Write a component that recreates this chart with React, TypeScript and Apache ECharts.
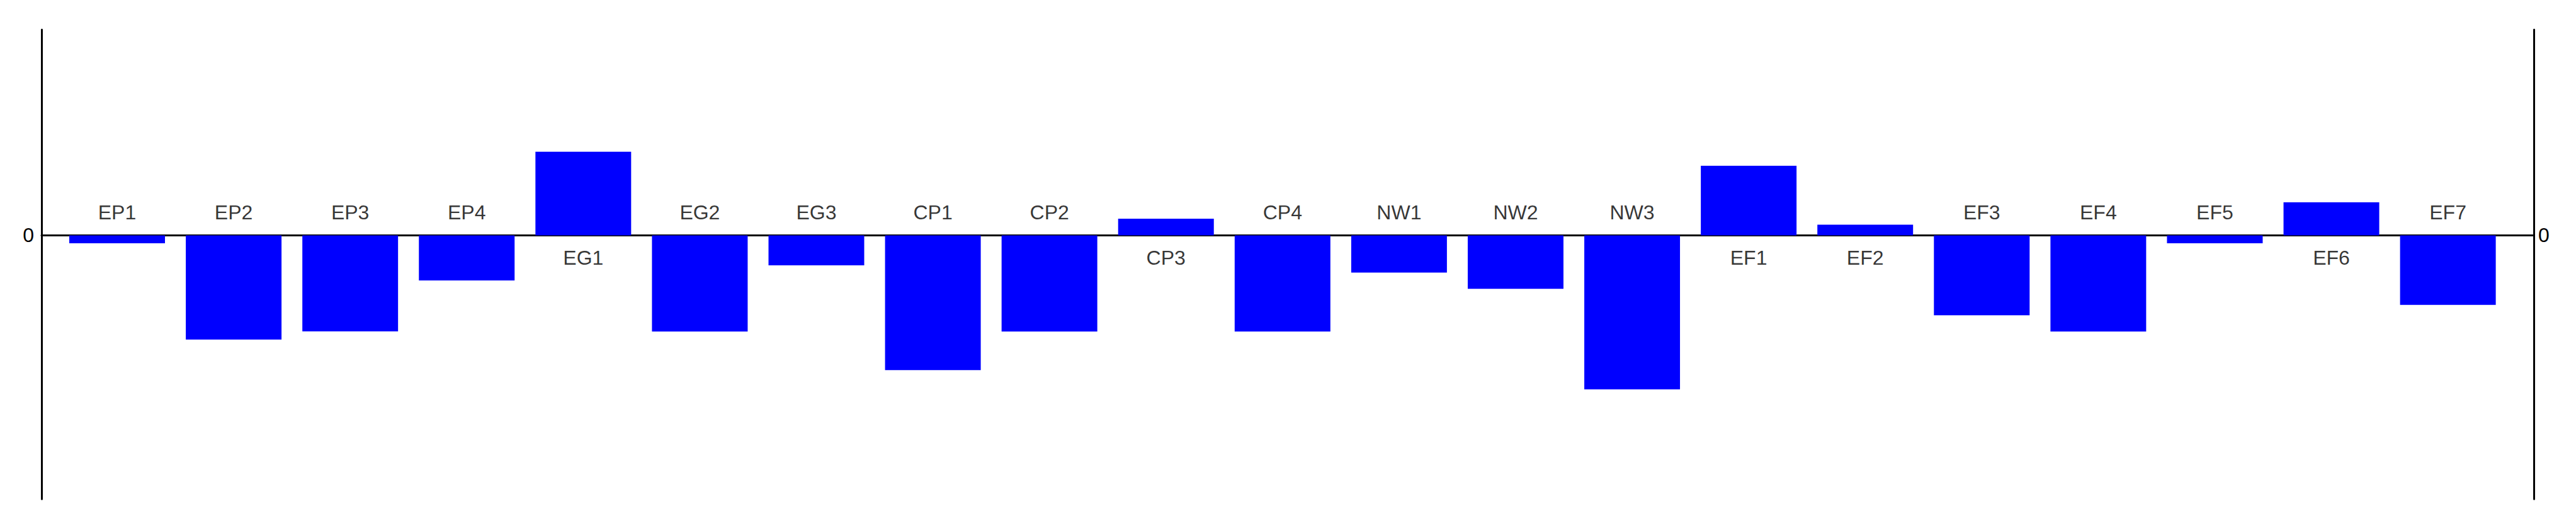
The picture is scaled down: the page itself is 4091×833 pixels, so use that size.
import React, { useEffect, useRef } from "react";
import * as echarts from "echarts";

const categories = [
  "EP1", "EP2", "EP3", "EP4", "EG1", "EG2", "EG3", "CP1", "CP2", "CP3", "CP4",
  "NW1", "NW2", "NW3", "EF1", "EF2", "EF3", "EF4", "EF5", "EF6", "EF7",
];
const values = [
  -12.5, -165, -152, -71.4, 132.6, -152.4, -47.4, -213.4, -152.4, 26.3, -152.4,
  -59, -84.7, -244, 110.3, 17, -126.7, -152.4, -12.5, 52.3, -110.2,
];
const yMin = -418;
const yMax = 326;
const yTickLabels = ["0"];
const labelGap = 36;

const FONT = "'Liberation Sans', Arial, sans-serif";

export default function App() {
  const ref = useRef<HTMLDivElement>(null);
  useEffect(() => {
    if (!ref.current) return;
    const chart = echarts.init(ref.current, undefined, { renderer: "svg" });
    const barData = values.map((v, i) => [i, v]);
    const labelData = values.map((v, i) => ({
      value: [i, v < 0 ? labelGap : -labelGap],
      name: categories[i],
    }));
    const yAxisCommon = {
      type: "value" as const,
      min: yMin,
      max: yMax,
      interval: 209,
      axisLine: { show: true, onZero: false, lineStyle: { color: "#000", width: 3 } },
      axisTick: { show: false },
      splitLine: { show: false },
      axisLabel: {
        color: "#000",
        fontSize: 32,
        fontFamily: FONT,
        showMinLabel: true,
        showMaxLabel: false,
        formatter: (v: number) => (v === 0 ? yTickLabels[0] : ""),
      },
    };
    chart.setOption({
      animation: false,
      backgroundColor: "#fff",
      grid: { left: 66, right: 67, top: 47, bottom: 41, containLabel: false },
      xAxis: {
        type: "value",
        min: -0.6484,
        max: 20.737,
        axisLine: { show: true, onZero: true, lineStyle: { color: "#000", width: 3 } },
        axisTick: { show: false },
        axisLabel: { show: false },
        splitLine: { show: false },
      },
      yAxis: [
        { ...yAxisCommon, position: "left", axisLabel: { ...yAxisCommon.axisLabel, margin: 12 } },
        { ...yAxisCommon, position: "right", axisLabel: { ...yAxisCommon.axisLabel, margin: 7 } },
      ],
      series: [
        {
          type: "bar",
          data: barData,
          barWidth: 152,
          itemStyle: { color: "#0000ff" },
          z: 3,
        },
        {
          type: "scatter",
          data: labelData,
          symbolSize: 0,
          label: {
            show: true,
            position: "inside",
            formatter: (p: any) => p.name,
            color: "#000",
            fontSize: 32,
            fontFamily: FONT,
          },
          z: 4,
        },
      ],
    });
    return () => chart.dispose();
  }, []);
  return (
    <div
      ref={ref}
      style={{ position: "fixed", left: 0, top: 0, width: 4091, height: 833, background: "#fff" }}
    />
  );
}
